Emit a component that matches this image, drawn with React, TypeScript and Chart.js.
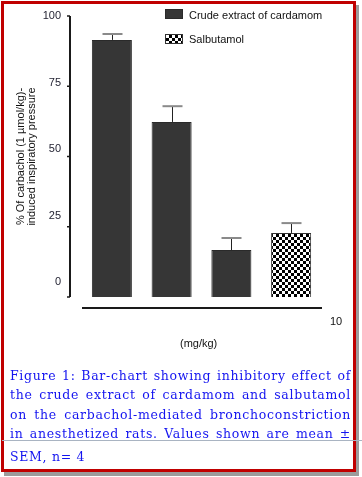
import React, { useEffect, useRef } from "react";
import { Chart, registerables } from "chart.js";

Chart.register(...registerables);

// ---- data ----
const categories = ["Cardamom dose 1", "Cardamom dose 2", "Cardamom dose 3", "Salbutamol"];
const seriesNames = ["Crude extract of cardamom", "Salbutamol"];
const crudeValues = [91.5, 62.3, 16.7, null];
const crudeSem = [2.1, 5.6, 4.3, null];
const salbValues = [null, null, null, 22.8];
const salbSem = [null, null, null, 3.5];
const yTickValues = [0, 25, 50, 75, 100];
const yTitle = ["% Of carbachol (1 µmol/kg)-", "induced inspiratory pressure"];
const xNote = "10";
const xUnit = "(mg/kg)";
const captionLines = [
  "Figure 1: Bar-chart showing inhibitory effect of",
  "the crude extract of cardamom and salbutamol",
  "on the carbachol-mediated bronchoconstriction",
  "in anesthetized rats. Values shown are mean ±",
];
const captionTail = "SEM, n= 4";

const SANS = "'Liberation Sans', Arial, sans-serif";
const BAR_FILL = "#363636";
const BAR_EDGE = "#2a2a2a";

function makeChecker(ctx: CanvasRenderingContext2D, cell: number) {
  const c = document.createElement("canvas");
  c.width = cell * 2;
  c.height = cell * 2;
  const g = c.getContext("2d")!;
  g.fillStyle = "#ffffff";
  g.fillRect(0, 0, cell * 2, cell * 2);
  g.fillStyle = "#000000";
  g.fillRect(0, 0, cell, cell);
  g.fillRect(cell, cell, cell, cell);
  return ctx.createPattern(c, "repeat")!;
}

const semLists = [crudeSem, salbSem];

const errorBarPlugin = {
  id: "errorBars",
  afterDatasetsDraw(chart: any) {
    const { ctx } = chart;
    const y = chart.scales.y;
    ctx.save();
    chart.data.datasets.forEach((ds: any, di: number) => {
      const meta = chart.getDatasetMeta(di);
      meta.data.forEach((bar: any, i: number) => {
        const v = ds.data[i];
        const e = semLists[di][i];
        if (v == null || e == null) return;
        const yTop = y.getPixelForValue(v);
        const yCap = y.getPixelForValue(v + e);
        const x = Math.round(bar.x) + 0.5;
        ctx.strokeStyle = "#222";
        ctx.lineWidth = 1;
        ctx.beginPath();
        ctx.moveTo(x, yTop);
        ctx.lineTo(x, yCap);
        ctx.stroke();
        ctx.strokeStyle = "#8a8a8a";
        ctx.lineWidth = 2;
        ctx.beginPath();
        ctx.moveTo(x - 10, yCap);
        ctx.lineTo(x + 10, yCap);
        ctx.stroke();
      });
    });
    ctx.restore();
  },
};

const axesPlugin = {
  id: "offsetAxes",
  afterDraw(chart: any) {
    const { ctx, chartArea } = chart;
    const y = chart.scales.y;
    const ax = chartArea.left - 12;
    ctx.save();
    ctx.strokeStyle = "#1a1a1a";
    ctx.lineWidth = 2;
    ctx.beginPath();
    ctx.moveTo(ax, y.getPixelForValue(yTickValues[yTickValues.length - 1]));
    ctx.lineTo(ax, y.getPixelForValue(yTickValues[0]));
    ctx.stroke();
    ctx.lineWidth = 1.5;
    yTickValues.forEach((v) => {
      const py = y.getPixelForValue(v);
      ctx.beginPath();
      ctx.moveTo(ax, py);
      ctx.lineTo(ax - 3, py);
      ctx.stroke();
    });
    const xy = chartArea.bottom + 11;
    ctx.lineWidth = 2;
    ctx.beginPath();
    ctx.moveTo(chartArea.left, xy);
    ctx.lineTo(chartArea.right + 1, xy);
    ctx.stroke();
    ctx.restore();
  },
};

export default function App() {
  const ref = useRef<HTMLCanvasElement | null>(null);

  useEffect(() => {
    const canvas = ref.current!;
    const ctx = canvas.getContext("2d")!;
    const checker = makeChecker(ctx, 3);
    const chart = new Chart(canvas, {
      type: "bar",
      data: {
        labels: categories,
        datasets: [
          {
            label: seriesNames[0],
            data: crudeValues as any,
            backgroundColor: BAR_FILL,
            borderColor: BAR_EDGE,
            borderWidth: 1,
            grouped: false,
            categoryPercentage: 1,
            barPercentage: 0.67,
          },
          {
            label: seriesNames[1],
            data: salbValues as any,
            backgroundColor: checker as any,
            borderColor: "#333",
            borderWidth: 1,
            grouped: false,
            categoryPercentage: 1,
            barPercentage: 0.67,
          },
        ],
      },
      options: {
        responsive: false,
        animation: false,
        devicePixelRatio: 1,
        layout: { padding: { left: 0, top: 16, right: 41, bottom: 63 } },
        plugins: { legend: { display: false }, tooltip: { enabled: false } },
        scales: {
          x: { display: false },
          y: { display: false, min: 0, max: 100 },
          yLab: {
            position: "left",
            min: -5.64,
            max: 100,
            grid: { display: false, drawTicks: true, tickLength: 21 },
            border: { display: false },
            afterFit: (s: any) => {
              s.width = 82;
            },
            ticks: {
              stepSize: 25,
              includeBounds: false,
              padding: 0,
              color: "#1e1e2e",
              font: { family: SANS, size: 11 },
              callback: (v: any) => (yTickValues.includes(Number(v)) ? String(v) : ""),
            },
            title: {
              display: true,
              text: yTitle,
              color: "#111",
              font: { family: SANS, size: 11, lineHeight: 1.05 },
              padding: { top: 15, bottom: 0 },
            },
          },
        },
      },
      plugins: [errorBarPlugin, axesPlugin],
    } as any);
    return () => chart.destroy();
  }, []);

  const legendText: React.CSSProperties = {
    position: "absolute",
    left: 189,
    font: `11px ${SANS}`,
    lineHeight: "13px",
    color: "#111",
    whiteSpace: "nowrap",
  };
  const capLine: React.CSSProperties = {
    textAlign: "justify",
    textAlignLast: "justify" as any,
    height: 19.5,
    lineHeight: "19.5px",
  };
  const capFont: React.CSSProperties = {
    fontFamily: "'DejaVu Serif', serif",
    fontSize: 12.5,
    letterSpacing: "0.7px",
    color: "#1414f0",
  };

  return (
    <div
      style={{
        position: "fixed",
        left: 0,
        top: 0,
        width: 362,
        height: 477,
        background: "#fff",
        overflow: "hidden",
      }}
    >
      <canvas ref={ref} width={362} height={360} style={{ position: "absolute", left: 0, top: 0 }} />

      {/* legend */}
      <div
        style={{
          position: "absolute",
          left: 165,
          top: 9,
          width: 18,
          height: 10,
          boxSizing: "border-box",
          background: BAR_FILL,
          border: `1px solid ${BAR_EDGE}`,
        }}
      />
      <div style={{ ...legendText, top: 8.5 }}>{seriesNames[0]}</div>
      <div
        style={{
          position: "absolute",
          left: 165,
          top: 34,
          width: 18,
          height: 10,
          boxSizing: "border-box",
          border: "1px solid #333",
          background: "repeating-conic-gradient(#000 0 25%, #fff 0 50%) 0 0 / 6px 6px",
        }}
      />
      <div style={{ ...legendText, top: 32.5 }}>{seriesNames[1]}</div>

      {/* x annotations */}
      <div style={{ position: "absolute", left: 330, top: 314.5, font: `11px ${SANS}`, lineHeight: "13px", color: "#111" }}>
        {xNote}
      </div>
      <div style={{ position: "absolute", left: 180, top: 336.5, font: `11px ${SANS}`, lineHeight: "13px", color: "#111" }}>
        {xUnit}
      </div>

      {/* caption */}
      <div
        style={{
          position: "absolute",
          left: 10,
          top: 365.5,
          width: 341,
          height: 440 - 365.5,
          overflow: "hidden",
          ...capFont,
        }}
      >
        {captionLines.map((l, i) => (
          <div key={i} style={capLine}>
            {l}
          </div>
        ))}
      </div>
      <div
        style={{
          position: "absolute",
          left: 10,
          top: 446.5,
          width: 340,
          lineHeight: "19.5px",
          whiteSpace: "nowrap",
          ...capFont,
        }}
      >
        {captionTail}
      </div>

      {/* frame */}
      <div
        style={{
          position: "absolute",
          left: 1,
          top: 1,
          width: 355,
          height: 471,
          boxSizing: "border-box",
          border: "3px solid #c00000",
          boxShadow: "3px 4px 0 #9c9c9c",
          pointerEvents: "none",
        }}
      />
      <div style={{ position: "absolute", left: 2, top: 440, width: 360, height: 1, background: "#a9b4c2" }} />
    </div>
  );
}
